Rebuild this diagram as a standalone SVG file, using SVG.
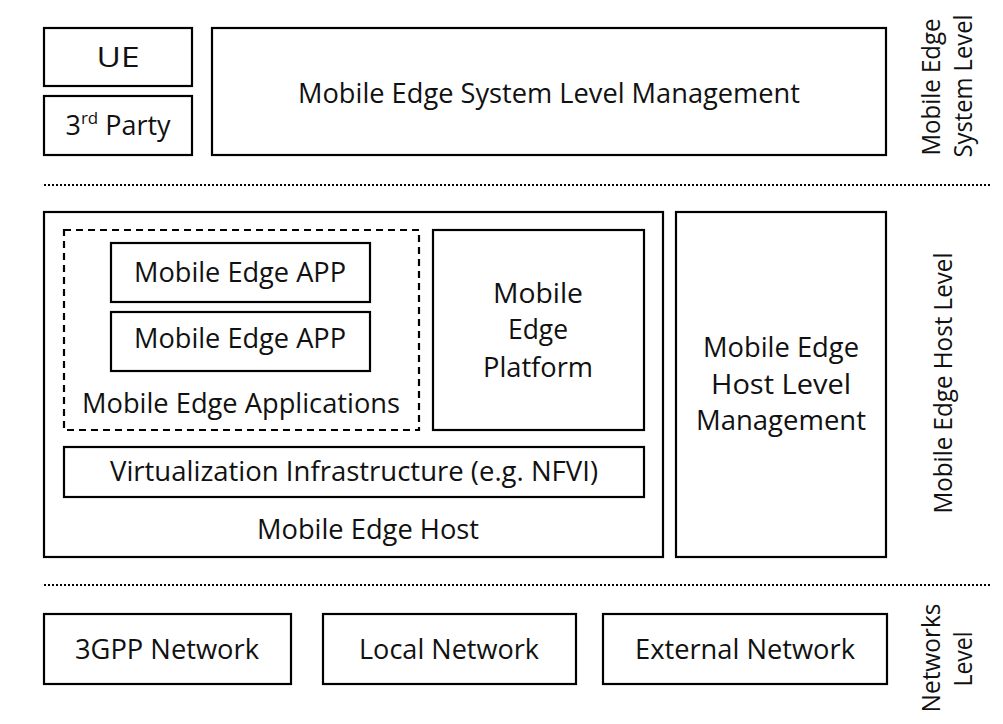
<svg xmlns="http://www.w3.org/2000/svg" width="1003" height="724" viewBox="0 0 1003 724">
<style>
.box{fill:#fff;stroke:#000;stroke-width:2.2}
.dash{fill:none;stroke:#000;stroke-width:2.2;stroke-dasharray:7 5}
.dot{fill:none;stroke:#000;stroke-width:2;stroke-dasharray:2 2}
text{font-family:"Open Sans","Liberation Sans",sans-serif;font-size:27px;fill:#111;text-anchor:middle}
.v{font-size:26px}
</style>
<rect width="1003" height="724" fill="#fff"/>
<g id="separators">
<line class="dot" x1="44" y1="185" x2="990" y2="185"/>
<line class="dot" x1="44" y1="585" x2="990" y2="585"/>
</g>
<g id="ue"><rect class="box" x="44" y="28" width="148" height="58"/><text x="118" y="67" textLength="43" lengthAdjust="spacingAndGlyphs">UE</text></g>
<g id="third-party"><rect class="box" x="44" y="96" width="148" height="59"/><text x="118" y="135" textLength="105" lengthAdjust="spacingAndGlyphs">3<tspan font-size="17" dy="-11">rd</tspan><tspan dy="11"> Party</tspan></text></g>
<g id="system-mgmt"><rect class="box" x="212" y="28" width="674" height="127"/><text x="549" y="103" textLength="502" lengthAdjust="spacingAndGlyphs">Mobile Edge System Level Management</text></g>
<g id="host"><rect class="box" x="44" y="212" width="619" height="345"/><text x="368" y="539" textLength="222" lengthAdjust="spacingAndGlyphs">Mobile Edge Host</text></g>
<g id="applications"><rect class="dash" x="64" y="230" width="355" height="200"/><text x="241" y="413" textLength="318" lengthAdjust="spacingAndGlyphs">Mobile Edge Applications</text></g>
<g id="app1"><rect class="box" x="111" y="243" width="259" height="59"/><text x="240" y="282" textLength="212" lengthAdjust="spacingAndGlyphs">Mobile Edge APP</text></g>
<g id="app2"><rect class="box" x="111" y="312" width="259" height="59"/><text x="240" y="348" textLength="212" lengthAdjust="spacingAndGlyphs">Mobile Edge APP</text></g>
<g id="platform"><rect class="box" x="433" y="230" width="211" height="200"/><text x="538" y="303" textLength="90" lengthAdjust="spacingAndGlyphs">Mobile</text><text x="538" y="339" textLength="60" lengthAdjust="spacingAndGlyphs">Edge</text><text x="538" y="377" textLength="110" lengthAdjust="spacingAndGlyphs">Platform</text></g>
<g id="virtualization"><rect class="box" x="64" y="447" width="580" height="50"/><text x="354" y="481" textLength="488" lengthAdjust="spacingAndGlyphs">Virtualization Infrastructure (e.g. NFVI)</text></g>
<g id="host-mgmt"><rect class="box" x="676" y="212" width="210" height="345"/><text x="781" y="357" textLength="156" lengthAdjust="spacingAndGlyphs">Mobile Edge</text><text x="781" y="394" textLength="140" lengthAdjust="spacingAndGlyphs">Host Level</text><text x="781" y="430" textLength="170" lengthAdjust="spacingAndGlyphs">Management</text></g>
<g id="net-3gpp"><rect class="box" x="44" y="614" width="247" height="70"/><text x="167" y="659" textLength="184" lengthAdjust="spacingAndGlyphs">3GPP Network</text></g>
<g id="net-local"><rect class="box" x="323" y="614" width="253" height="70"/><text x="449" y="659" textLength="180" lengthAdjust="spacingAndGlyphs">Local Network</text></g>
<g id="net-external"><rect class="box" x="603" y="614" width="284" height="70"/><text x="745" y="659" textLength="220" lengthAdjust="spacingAndGlyphs">External Network</text></g>
<g id="level-labels">
<text class="v" transform="translate(940,87) rotate(-90)" textLength="137" lengthAdjust="spacingAndGlyphs">Mobile Edge</text>
<text class="v" transform="translate(972,86) rotate(-90)" textLength="143" lengthAdjust="spacingAndGlyphs">System Level</text>
<text class="v" transform="translate(952,383) rotate(-90)" textLength="261" lengthAdjust="spacingAndGlyphs">Mobile Edge Host Level</text>
<text class="v" transform="translate(940,658) rotate(-90)" textLength="109" lengthAdjust="spacingAndGlyphs">Networks</text>
<text class="v" transform="translate(972,659) rotate(-90)" textLength="55" lengthAdjust="spacingAndGlyphs">Level</text>
</g>
</svg>
